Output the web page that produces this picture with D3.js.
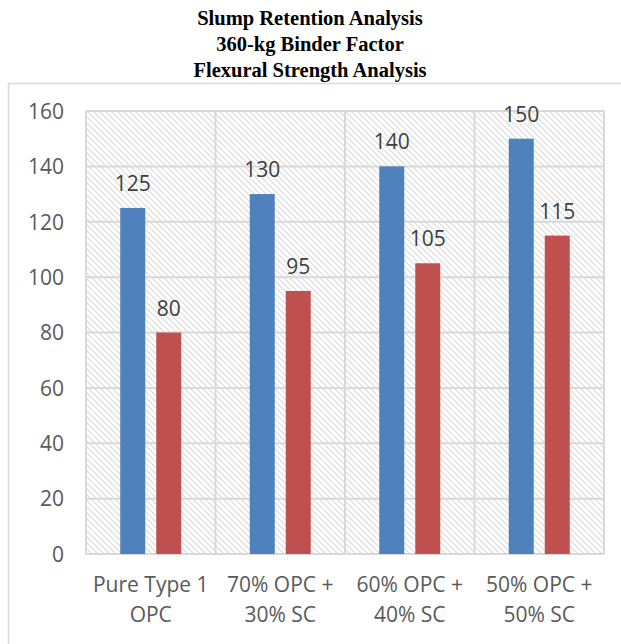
<!DOCTYPE html>
<html><head><meta charset="utf-8">
<script src="https://cdn.jsdelivr.net/npm/d3@7"></script>
<style>body{margin:0;background:#fff;}</style>
</head><body>
<script>
const categories = [["Pure Type 1","OPC"],["70% OPC +","30% SC"],["60% OPC +","40% SC"],["50% OPC +","50% SC"]];
const series1 = [125,130,140,150];
const series2 = [80,95,105,115];
const yTicks = [0,20,40,60,80,100,120,140,160];
const titleLines = ["Slump Retention Analysis","360-kg Binder Factor","Flexural Strength Analysis"];

(function(){
const W=621,H=644;
const svg=d3.select("body").append("svg").attr("width",W).attr("height",H);
const defs=svg.append("defs");
const pat=defs.append("pattern").attr("id","hatch").attr("patternUnits","userSpaceOnUse")
  .attr("width",6).attr("height",6);
pat.append("path").attr("d","M-1,-1 L7,7 M-1,5 L1,7 M5,-1 L7,1").attr("stroke","#dadada").attr("stroke-width",1.1);

svg.append("rect").attr("x",8.5).attr("y",83.5).attr("width",640).attr("height",600)
  .attr("fill","none").attr("stroke","#d9d9d9").attr("stroke-width",1.5);

svg.append("g").selectAll("text").data(titleLines).join("text")
  .attr("x",310).attr("y",(d,i)=>25+i*26).attr("text-anchor","middle")
  .attr("font-family","'Liberation Serif','DejaVu Serif',serif").attr("font-weight","bold")
  .attr("font-size",20.5).attr("fill","#000").text(d=>d);

const pl=86,pr=604,pt=111,pb=554;
const x=d3.scaleBand().domain(d3.range(categories.length)).range([pl,pr]).padding(0);
const y=d3.scaleLinear().domain([0,160]).range([pb,pt]);

svg.append("rect").attr("x",pl).attr("y",pt).attr("width",pr-pl).attr("height",pb-pt).attr("fill","url(#hatch)");

svg.append("g").selectAll("line").data(yTicks).join("line")
  .attr("x1",pl).attr("x2",pr).attr("y1",d=>y(d)).attr("y2",d=>y(d))
  .attr("stroke","#d9d9d9").attr("stroke-width",2);
const vb=d3.range(categories.length+1).map(i=>i<categories.length?x(i):pr);
svg.append("g").selectAll("line").data(vb).join("line")
  .attr("x1",d=>d).attr("x2",d=>d).attr("y1",pt).attr("y2",pb)
  .attr("stroke","#d9d9d9").attr("stroke-width",2);

const step=x.bandwidth();
const bw=step*0.193, gap=step*0.085;
const font="'Open Sans',Lato,sans-serif";
const fs=21;

const g=svg.append("g");
function drawSeries(vals,color,offset){
  g.append("g").selectAll("rect").data(vals).join("rect")
    .attr("x",(d,i)=>x(i)+step/2+offset).attr("width",bw)
    .attr("y",d=>y(d)).attr("height",d=>pb-y(d)).attr("fill",color);
  g.append("g").selectAll("text").data(vals).join("text")
    .attr("x",(d,i)=>x(i)+step/2+offset+bw/2).attr("y",d=>y(d)-17)
    .attr("text-anchor","middle").attr("font-family",font).attr("font-size",fs)
    .attr("fill","#404040").text(d=>d);
}
drawSeries(series1,"#4F81BD",-gap/2-bw);
drawSeries(series2,"#C0504D",gap/2);

const yAxis=d3.axisLeft(y).tickValues(yTicks).tickSize(0).tickPadding(22);
const ya=svg.append("g").attr("transform",`translate(${pl},0)`).call(yAxis);
ya.select(".domain").remove();
ya.selectAll("text").attr("font-family",font).attr("font-size",fs).attr("fill","#595959").attr("dy","0.35em");

const xl=svg.append("g");
categories.forEach((c,i)=>{
  c.forEach((t,j)=>{
    xl.append("text").attr("x",x(i)+step/2).attr("y",592+j*30).attr("text-anchor","middle")
      .attr("font-family",font).attr("font-size",fs).attr("fill","#595959").text(t);
  });
});
})();
</script>
</body></html>
